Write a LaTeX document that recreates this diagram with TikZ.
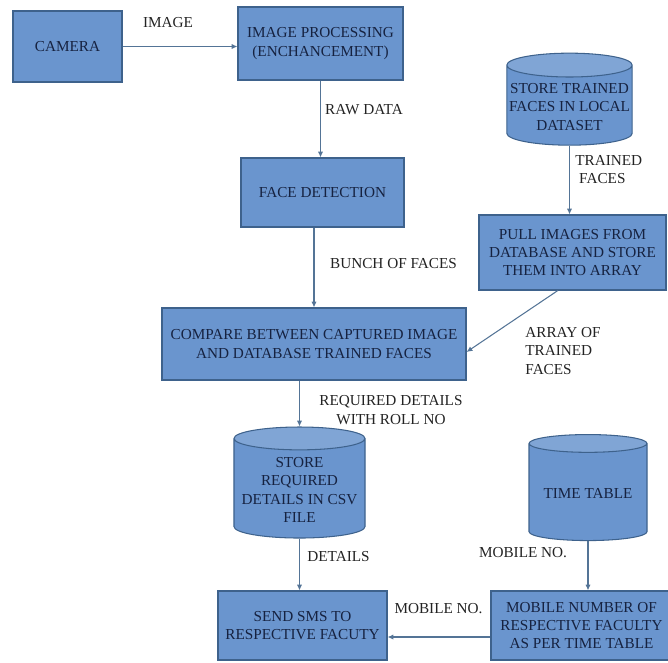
\documentclass[tikz,border=0pt]{standalone}
\usepackage{fontspec}
\setmainfont{Liberation Serif}
\usepackage{xcolor}
\usetikzlibrary{shapes.geometric,arrows.meta,calc}

\definecolor{boxblue}{RGB}{106,149,206}
\definecolor{boxedge}{RGB}{62,98,140}
\definecolor{boxtext}{RGB}{22,34,64}
\definecolor{arrowcol}{RGB}{84,116,150}
\definecolor{labeltext}{RGB}{35,35,35}

\tikzset{
  procbox/.style={draw=boxedge, fill=boxblue, line width=0.9pt, text=boxtext,
    align=center, inner sep=2pt},
  datacyl/.style={cylinder, shape border rotate=90, aspect=0.19, draw=boxedge,
    line width=0.9pt, cylinder uses custom fill, cylinder body fill=boxblue,
    cylinder end fill=boxblue!85!white, text=boxtext, align=center, inner sep=2pt},
  flow/.style={draw=arrowcol, line width=0.9pt, -{Latex[length=5pt,width=4.5pt]}},
  flowlabel/.style={text=labeltext, align=center, inner sep=1pt},
}

\begin{document}
\begin{tikzpicture}[x=0.03cm, y=-0.03cm, font=\fontsize{13}{15.5}\selectfont]

\useasboundingbox (0,0) rectangle (668,662);

% =====================
% Capture stage
% =====================
\node[procbox, minimum width=3.27cm, minimum height=2.13cm] (camera)
    at (67.5,46.5) {CAMERA};
\node[procbox, minimum width=4.95cm, minimum height=2.19cm] (improc)
    at (320.5,43.5) {IMAGE PROCESSING\\(ENCHANCEMENT)};
\node[procbox, minimum width=4.89cm, minimum height=2.07cm] (facedet)
    at (322.5,192.5) {FACE DETECTION};

% =====================
% Trained data
% =====================
\node[datacyl, minimum width=3.75cm, minimum height=2.76cm] (trainedstore)
    at (569.5,107) {STORE TRAINED\\FACES IN LOCAL\\DATASET};
\node[procbox, minimum width=5.61cm, minimum height=2.25cm] (pullimg)
    at (572.5,252.5) {PULL IMAGES FROM\\DATABASE AND STORE\\THEM INTO ARRAY};

% =====================
% Matching and output
% =====================
\node[procbox, minimum width=9.12cm, minimum height=2.16cm] (compare)
    at (314,344) {COMPARE BETWEEN CAPTURED IMAGE\\AND DATABASE TRAINED FACES};
\node[datacyl, minimum width=3.93cm, minimum height=3.33cm] (csvstore)
    at (299.5,490) {STORE\\REQUIRED\\DETAILS IN CSV\\FILE};
\node[datacyl, minimum width=3.54cm, minimum height=3.18cm] (timetable)
    at (588,493.5) {TIME TABLE};
\node[procbox, minimum width=5.07cm, minimum height=2.07cm] (sendsms)
    at (302.5,625.5) {SEND SMS TO\\RESPECTIVE FACUTY};
\node[procbox, minimum width=5.43cm, minimum height=2.07cm] (mobilenum)
    at (581.5,625.5) {MOBILE NUMBER OF\\RESPECTIVE FACULTY\\AS PER TIME TABLE};

% =====================
% Connectors
% =====================
\draw[flow] (camera.east) -- (camera.east -| improc.west);
\draw[flow] (improc.south) -- (improc.south |- facedet.north);
\draw[flow] (facedet.south -| compare.north) -- (compare.north);
\draw[flow] (trainedstore.south) -- (trainedstore.south |- pullimg.north);
\draw[flow] ([xshift=-0.44cm]pullimg.south) -- ([yshift=-0.24cm]compare.east);
\draw[flow] (compare.south -| csvstore.north) -- (csvstore.north);
\draw[flow] (csvstore.south) -- (csvstore.south |- sendsms.north);
\draw[flow] (timetable.south) -- (timetable.south |- mobilenum.north);
\draw[flow] ([yshift=-0.345cm]mobilenum.west) -- ([yshift=-0.345cm]sendsms.east);

% =====================
% Labels
% =====================
\node[flowlabel] (lblimage) at (168,23) {IMAGE};
\node[flowlabel] (lblraw) at (364,110) {RAW DATA};
\node[flowlabel, anchor=west, align=left] (lbltrained) at (574,169.5)
    {TRAINED\\\ FACES};
\node[flowlabel] (lblbunch) at (393.5,264) {BUNCH OF FACES};
\node[flowlabel, anchor=west, align=left] (lblarray) at (524,351)
    {ARRAY OF\\TRAINED\\FACES};
\node[flowlabel] (lblrequired) at (391,410) {REQUIRED DETAILS\\WITH ROLL NO};
\node[flowlabel] (lbldetails) at (338.5,557) {DETAILS};
\node[flowlabel] (lblmobup) at (523,553) {MOBILE NO.};
\node[flowlabel] (lblmoblow) at (438.5,609) {MOBILE NO.};

\end{tikzpicture}
\end{document}
